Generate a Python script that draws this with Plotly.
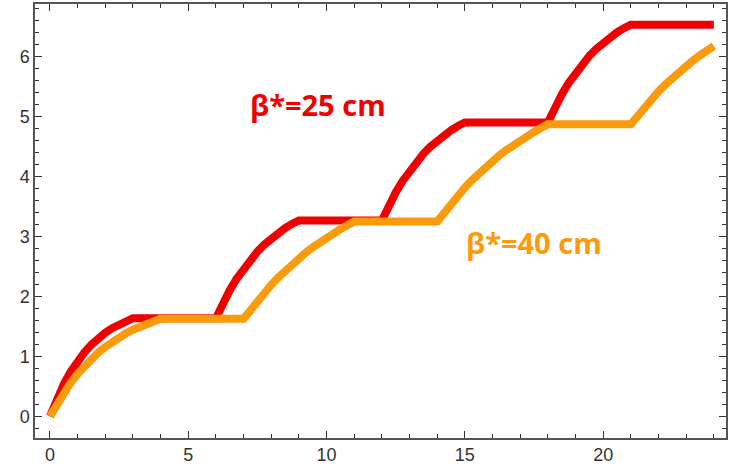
import plotly.graph_objects as go

# beta* = 25 cm (red)
red_x = [0, 0.25, 0.5, 0.75, 1, 1.25, 1.5, 1.75, 2, 2.25, 2.5, 2.75, 3,
         6, 6.25, 6.5, 6.75, 7, 7.25, 7.5, 7.75, 8, 8.25, 8.5, 8.75, 9,
         12, 12.25, 12.5, 12.75, 13, 13.25, 13.5, 13.75, 14, 14.25, 14.5, 14.75, 15,
         18, 18.25, 18.5, 18.75, 19, 19.25, 19.5, 19.75, 20, 20.25, 20.5, 20.75, 21,
         24]
red_y = [0, 0.290, 0.536, 0.744, 0.920, 1.069, 1.195, 1.302, 1.393, 1.469, 1.534, 1.589, 1.635,
         1.635, 1.882, 2.101, 2.293, 2.463, 2.613, 2.745, 2.862, 2.965, 3.056, 3.137, 3.207, 3.265,
         3.265, 3.512, 3.731, 3.923, 4.093, 4.243, 4.375, 4.492, 4.595, 4.686, 4.767, 4.837, 4.895,
         4.895, 5.142, 5.361, 5.553, 5.723, 5.873, 6.005, 6.122, 6.225, 6.316, 6.397, 6.467, 6.525,
         6.525]

# beta* = 40 cm (orange)
orange_x = [0, 0.25, 0.5, 0.75, 1, 1.25, 1.5, 1.75, 2, 2.25, 2.5, 2.75, 3, 3.25, 3.5, 3.75, 4,
            7, 7.25, 7.5, 7.75, 8, 8.25, 8.5, 8.75, 9, 9.25, 9.5, 9.75, 10, 10.25, 10.5, 10.75, 11,
            14, 14.25, 14.5, 14.75, 15, 15.25, 15.5, 15.75, 16, 16.25, 16.5, 16.75, 17, 17.25, 17.5, 17.75, 18,
            21, 21.25, 21.5, 21.75, 22, 22.25, 22.5, 22.75, 23, 23.25, 23.5, 23.75, 24]
orange_y = [0, 0.208, 0.394, 0.560, 0.709, 0.841, 0.959, 1.064, 1.158, 1.242, 1.317, 1.384, 1.444, 1.497, 1.545, 1.587, 1.625,
            1.625, 1.780, 1.926, 2.063, 2.192, 2.313, 2.426, 2.533, 2.634, 2.728, 2.816, 2.899, 2.977, 3.051, 3.119, 3.184, 3.245,
            3.245, 3.400, 3.546, 3.683, 3.812, 3.933, 4.046, 4.153, 4.254, 4.348, 4.436, 4.519, 4.597, 4.671, 4.739, 4.804, 4.865,
            4.865, 5.015, 5.155, 5.288, 5.412, 5.529, 5.638, 5.741, 5.839, 5.929, 6.014, 6.094, 6.170]

labels = ["β*=25 cm", "β*=40 cm"]
x_tick_step = 5
y_tick_step = 1

RED = "#F00000"
ORANGE = "#F99B0C"

fig = go.Figure()
fig.add_trace(go.Scatter(x=red_x, y=red_y, mode="lines",
                         line=dict(color=RED, width=8), showlegend=False))
fig.add_trace(go.Scatter(x=orange_x, y=orange_y, mode="lines",
                         line=dict(color=ORANGE, width=8), showlegend=False))

fig.add_annotation(x=9.7, y=5.2, xref="x", yref="y", text="<b>" + labels[0] + "</b>",
                   showarrow=False, font=dict(family="Open Sans", size=29, color=RED))
fig.add_annotation(x=17.5, y=2.89, xref="x", yref="y", text="<b>" + labels[1] + "</b>",
                   showarrow=False, font=dict(family="Open Sans", size=29, color=ORANGE))

axis_common = dict(
    showgrid=False, zeroline=False, showline=True, linecolor="#555555", linewidth=1.5,
    mirror="allticks", ticks="inside", ticklen=7, tickwidth=1.3, tickcolor="#333333",
    tickfont=dict(family="Liberation Sans", size=18, color="#333333"),
    tickmode="linear", tick0=0,
)

fig.update_xaxes(range=[-0.54, 24.44], dtick=x_tick_step,
                 minor=dict(dtick=1, tick0=0, ticks="inside", ticklen=4, tickcolor="#333333"),
                 **axis_common)
fig.update_yaxes(range=[-0.36, 6.87], dtick=y_tick_step,
                 minor=dict(dtick=0.2, tick0=0, ticks="inside", ticklen=4, tickcolor="#333333"),
                 **axis_common)

fig.update_layout(width=729, height=466, margin=dict(l=35, r=3, t=4, b=28, autoexpand=False),
                  plot_bgcolor="white", paper_bgcolor="white")

fig.write_html("out.html", config={"displayModeBar": False},
               post_script="document.body.style.margin='0';")
